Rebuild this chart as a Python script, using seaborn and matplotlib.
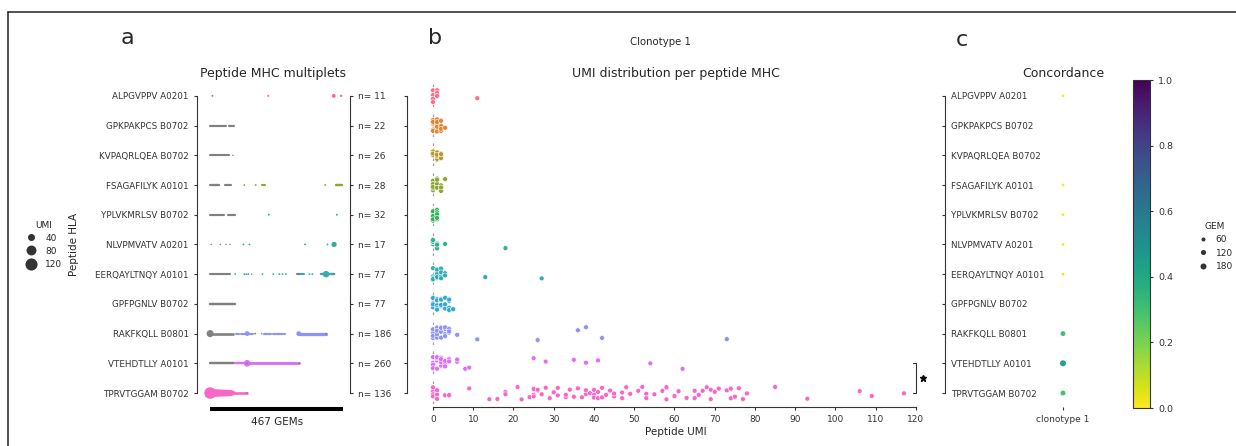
import numpy as np
import pandas as pd
import matplotlib
matplotlib.use('Agg')
import matplotlib.pyplot as plt
import matplotlib.transforms as mtransforms
from matplotlib.lines import Line2D
import seaborn as sns

# ---- data ----
peptides = ['ALPGVPPV A0201', 'GPKPAKPCS B0702', 'KVPAQRLQEA B0702', 'FSAGAFILYK A0101',
            'YPLVKMRLSV B0702', 'NLVPMVATV A0201', 'EERQAYLTNQY A0101', 'GPFPGNLV B0702',
            'RAKFKQLL B0801', 'VTEHDTLLY A0101', 'TPRVTGGAM B0702']
gem_counts = [11, 22, 26, 28, 32, 17, 77, 77, 186, 260, 136]
total_gems = 467

# panel a, single GEMs: row, GEM index, UMI, grey (peptide not the top one in GEM)
dot_row = [0, 0, 0, 0,
           2,
           3, 3, 3,
           4, 4,
           5, 5, 5, 5, 5, 5, 5, 5, 5,
           6, 6, 6, 6, 6, 6, 6, 6, 6, 6, 6, 6, 6, 6,
           8, 8, 8, 8, 8, 8,
           9, 9, 9,
           10, 10, 10, 10, 10, 10, 10, 10, 10, 10, 10, 10, 10]
dot_gem = [8, 204, 434, 460,
           80,
           120, 160, 404,
           206, 445,
           4, 36, 56, 70, 117, 138, 333, 412, 435,
           88, 120, 127, 134, 146, 184, 222, 243, 254, 266, 349, 359, 407, 436,
           0, 130, 158, 181, 311, 407,
           130, 130, 313,
           0, 8, 16, 24, 32, 40, 48, 56, 64, 72, 78, 84, 129]
dot_umi = [2, 3, 12, 4,
           1,
           2, 2, 2,
           2, 2,
           1, 1, 1, 1, 2, 2, 2, 2, 22,
           2, 2, 2, 2, 1, 2, 2, 2, 2, 2, 2, 2, 34, 2,
           40, 18, 2, 2, 18, 2,
           36, 2, 2,
           110, 60, 48, 44, 42, 40, 38, 36, 34, 30, 20, 9, 2]
dot_grey = [1, 0, 0, 0,
            1,
            0, 0, 0,
            0, 0,
            1, 1, 1, 1, 0, 0, 0, 0, 0,
            0, 0, 0, 0, 1, 0, 0, 0, 0, 0, 0, 0, 0, 1,
            1, 0, 1, 0, 0, 1,
            0, 1, 1,
            0, 0, 0, 0, 0, 0, 0, 0, 0, 0, 0, 0, 1]

# panel a, runs of neighbouring GEMs: row, first GEM, last GEM, typical UMI, grey
run_row = [1, 1, 1, 2, 2, 3, 3, 3, 3, 3, 4, 4, 6, 6, 6, 6,
           7, 8, 8, 8, 8, 8, 8, 8, 8, 9, 9, 9, 10]
run_start = [0, 15, 68, 0, 43, 0, 53, 181, 442, 6, 0, 62, 0, 306, 320, 390,
             0, 0, 90, 108, 135, 190, 222, 250, 311, 0, 88, 130, 84]
run_end = [12, 55, 84, 41, 68, 32, 73, 193, 462, 32, 50, 88, 70, 318, 329, 436,
           88, 82, 100, 125, 150, 215, 245, 263, 407, 85, 128, 313, 129]
run_umi = [3, 3, 3, 3, 3, 3, 3, 3, 4, 3, 3, 3, 3, 3, 3, 4,
           4, 5, 3, 3, 3, 3, 3, 3, 8, 4, 4, 6, 5]
run_grey = [1, 1, 1, 1, 1, 1, 1, 0, 0, 1, 1, 1, 1, 1, 0, 0,
            1, 1, 0, 0, 0, 0, 0, 0, 0, 1, 0, 0, 0]

# panel b, peptide UMI per GEM
umi_alpgvppv = [0, 0, 0, 0, 0, 1, 1, 1, 1, 1, 11]
umi_gpkpakpcs = [0, 0, 0, 0, 0, 0, 1, 1, 1, 1, 1, 1, 2, 2, 2, 2, 2, 3]
umi_kvpaqrlqea = [0, 0, 0, 0, 0, 0, 1, 1, 1, 1, 1, 1, 2, 2, 2, 2, 2, 2]
umi_fsagafilyk = [0, 0, 0, 0, 0, 0, 1, 1, 1, 1, 1, 2, 2, 2, 2, 3]
umi_yplvkmrlsv = [0, 0, 0, 0, 0, 0, 1, 1, 1, 1, 1, 1]
umi_nlvpmvatv = [0, 0, 0, 0, 0, 0, 1, 1, 1, 1, 1, 3, 18]
umi_eerqayltnqy = [0, 0, 0, 0, 0, 0, 1, 1, 1, 1, 1, 2, 2, 2, 2, 3, 3, 13, 27]
umi_gpfpgnlv = [0, 0, 0, 0, 0, 0, 1, 1, 1, 1, 1, 2, 2, 2, 2, 2, 3, 3, 3, 3, 4, 4, 4, 4, 5, 5]
umi_rakfkqll = [0, 0, 0, 0, 0, 0, 1, 1, 1, 1, 1, 2, 2, 2, 2, 2, 3, 3, 3, 3, 4, 4, 4,
                6, 11, 26, 36, 38, 42, 73]
umi_vtehdtlly = [0, 0, 0, 0, 0, 0, 1, 1, 1, 1, 1, 2, 2, 2, 2, 2, 3, 3, 3, 3, 4, 4, 4,
                 6, 6, 8, 9, 25, 28, 35, 38, 41, 54, 62]
umi_tprvtggam = [0, 0, 0, 0, 0, 1, 1, 1, 1, 3, 4, 4, 9, 14, 16, 18, 18, 21, 22, 24, 25, 25,
                 25, 26, 26, 27, 28, 29, 30, 30, 31, 31, 33, 33, 34, 35, 36, 37, 38, 38,
                 39, 40, 40, 40, 41, 41, 42, 42, 43, 44, 45, 45, 47, 47, 48, 49, 51, 52,
                 53, 53, 53, 55, 57, 58, 58, 58, 60, 61, 61, 63, 65, 65, 66, 67, 68, 69,
                 69, 70, 71, 73, 74, 74, 75, 76, 77, 78, 85, 93, 106, 109, 117]
umi_lists = [umi_alpgvppv, umi_gpkpakpcs, umi_kvpaqrlqea, umi_fsagafilyk, umi_yplvkmrlsv,
             umi_nlvpmvatv, umi_eerqayltnqy, umi_gpfpgnlv, umi_rakfkqll, umi_vtehdtlly,
             umi_tprvtggam]
zero_umi = 0

# panel c, concordance and GEMs for clonotype 1
conc_value = [0.0, np.nan, np.nan, 0.0, 0.0, 0.0, 0.03, np.nan, 0.3, 0.42, 0.3]
conc_gems = [12, np.nan, np.nan, 12, 12, 12, 14, np.nan, 110, 190, 110]
umi_legend = [40, 80, 120]
gem_legend = [60, 120, 180]

# ---- style ----
sns.set_style('ticks')
plt.rcParams['font.family'] = ['DejaVu Sans']
plt.rcParams['axes.edgecolor'] = '#333333'
plt.rcParams['axes.linewidth'] = 0.8
plt.rcParams['xtick.color'] = '#333333'
plt.rcParams['ytick.color'] = '#333333'
plt.rcParams['xtick.major.size'] = 2.5
plt.rcParams['ytick.major.size'] = 2.5
plt.rcParams['text.color'] = '#262626'

pal = sns.color_palette('husl', len(peptides))
pal_dict = dict(zip(peptides, pal))
grey = '#808080'
umi_sizes = (0.5, 76)
umi_norm = (0, 120)
gem_sizes = (3, 18.7)
gem_norm = (0, 180)

W, H = 1236, 446
fig = plt.figure(figsize=(W / 100, H / 100), dpi=100)
top, bottom = 81, 407
axa = fig.add_axes([197 / W, 1 - bottom / H, 153 / W, (bottom - top) / H])
axb = fig.add_axes([407 / W, 1 - bottom / H, 537 / W, (bottom - top) / H])
axc = fig.add_axes([945 / W, 1 - bottom / H, 236 / W, (bottom - top) / H])
cax = fig.add_axes([1133 / W, 1 - 408 / H, 17 / W, 328 / H])
rows = np.arange(len(peptides))
ylim = (10.47, -0.5)


def umi_width(u):
    return np.sqrt(umi_sizes[0] + np.asarray(u) / umi_norm[1] * (umi_sizes[1] - umi_sizes[0]))


# ---- panel a: multiplets ----
dots = pd.DataFrame({'row': dot_row, 'gem': dot_gem, 'umi': dot_umi, 'grey': dot_grey})
dots['peptide'] = [peptides[r] for r in dots['row']]
runs = pd.DataFrame({'row': run_row, 'start': run_start, 'end': run_end,
                     'umi': run_umi, 'grey': run_grey})
run_cols = [grey if g else pal[r] for r, g in zip(runs['row'], runs['grey'])]
axa.hlines(runs['row'], runs['start'], runs['end'], colors=run_cols,
           linewidths=umi_width(runs['umi']), capstyle='round', zorder=2)
sns.scatterplot(data=dots[dots['grey'] == 0], x='gem', y='row', hue='peptide',
                palette=pal_dict, size='umi', sizes=umi_sizes, size_norm=umi_norm,
                linewidth=0, legend=False, ax=axa, zorder=3)
sns.scatterplot(data=dots[dots['grey'] == 1], x='gem', y='row', color=grey,
                size='umi', sizes=umi_sizes, size_norm=umi_norm,
                linewidth=0, legend=False, ax=axa, zorder=4)
axa.set_xlim(-46, 491)
axa.set_ylim(*ylim)
axa.set_yticks(rows)
axa.set_yticklabels(peptides, fontsize=6.3)
axa.set_xticks([])
axa.set_xlabel('')
axa.set_ylabel('Peptide HLA', fontsize=7.5)
axa.yaxis.set_label_coords(-0.77, 0.5)
axa.set_title('Peptide MHC multiplets', fontsize=9, pad=3)
for s in ['top', 'right', 'bottom']:
    axa.spines[s].set_visible(False)
axa.spines['left'].set_bounds(0, 10)

axa2 = axa.twinx()
axa2.set_ylim(*ylim)
axa2.set_yticks(rows)
axa2.set_yticklabels(['n= %d' % n for n in gem_counts], fontsize=6.5)
for s in ['top', 'left', 'bottom']:
    axa2.spines[s].set_visible(False)
axa2.spines['right'].set_bounds(0, 10)

# scale bar under panel a
tr = mtransforms.blended_transform_factory(axa.transData, axa.transAxes)
axa.plot([0, total_gems], [-0.006, -0.006], color='black', lw=2.9,
         solid_capstyle='butt', transform=tr, clip_on=False)
axa.text(total_gems / 2, -0.046, '%d GEMs' % total_gems, transform=tr,
         ha='center', va='center', fontsize=7.5)

handles = [Line2D([], [], marker='o', ls='', color='#333333', markeredgewidth=0,
                  markersize=umi_width(u)) for u in umi_legend]
fig.legend(handles, [str(u) for u in umi_legend], title='UMI', loc='upper left',
           bbox_to_anchor=(21 / W, 1 - 216 / H), frameon=False, fontsize=6.5,
           title_fontsize=6.5, handletextpad=1.0, labelspacing=0.45,
           borderpad=0, handlelength=1.2)

# ---- panel b: UMI distribution ----
bdf = pd.DataFrame({'peptide': np.repeat(peptides, [len(v) for v in umi_lists]),
                    'umi': np.concatenate(umi_lists)})
axb.vlines([zero_umi] * len(rows), rows - 0.4, rows + 0.4, colors='#a0a0a0',
           linestyles=(0, (2, 2)), linewidth=0.9, zorder=1)
np.random.seed(7)
sns.stripplot(data=bdf, x='umi', y='peptide', order=peptides, hue='peptide',
              hue_order=peptides, palette=pal, size=3.5, linewidth=0.4, jitter=0.22,
              edgecolor='white', legend=False, ax=axb, zorder=3)
axb.set_xlim(-6.46, 126.96)
axb.set_ylim(*ylim)
axb.set_xticks(np.arange(0, 121, 10))
axb.tick_params(axis='x', labelsize=6.5)
axb.set_yticks(rows)
axb.set_yticklabels([])
axb.set_ylabel('')
axb.set_xlabel('Peptide UMI', fontsize=7.5, labelpad=2)
axb.set_title('UMI distribution per peptide MHC', fontsize=9, pad=3)
for s in ['top', 'right']:
    axb.spines[s].set_visible(False)
axb.spines['left'].set_bounds(0, 10)
axb.spines['bottom'].set_bounds(0, 120)
# significance bracket between the two last rows
axb.plot([119.3, 120, 120, 119.3], [9, 9, 10, 10], color='#333333', lw=0.8, clip_on=False)
axb.plot([121.7], [9.5], marker='*', color='black', ms=5, clip_on=False)

# ---- panel c: concordance ----
cdf = pd.DataFrame({'clono': 'clonotype 1', 'row': rows, 'conc': conc_value, 'gem': conc_gems})
cdf = cdf.dropna()
sns.scatterplot(data=cdf, x='clono', y='row', hue='conc', hue_norm=(0, 1),
                palette='viridis_r', size='gem', sizes=gem_sizes, size_norm=gem_norm,
                linewidth=0, legend=False, ax=axc)
axc.set_xlim(-0.5, 0.5)
axc.set_ylim(*ylim)
axc.set_yticks(rows)
axc.set_yticklabels(peptides, fontsize=6.3, ha='left')
axc.tick_params(axis='y', pad=-6.8)
axc.tick_params(axis='x', labelsize=6.5)
axc.set_xlabel('')
axc.set_ylabel('')
axc.set_title('Concordance', fontsize=9, pad=3)
for s in ['top', 'right', 'bottom']:
    axc.spines[s].set_visible(False)
axc.spines['left'].set_bounds(0, 10)

sm = plt.cm.ScalarMappable(norm=plt.Normalize(0, 1), cmap='viridis_r')
cb = fig.colorbar(sm, cax=cax)
cb.set_ticks(np.arange(0, 1.01, 0.2))
cb.ax.tick_params(labelsize=6.8, length=2.5)
cb.outline.set_linewidth(0.8)

gem_handles = [Line2D([], [], marker='o', ls='', color='#333333', markeredgewidth=0,
                      markersize=np.sqrt(gem_sizes[0] + g / gem_norm[1] * (gem_sizes[1] - gem_sizes[0])))
               for g in gem_legend]
fig.legend(gem_handles, [str(g) for g in gem_legend], title='GEM', loc='upper left',
           bbox_to_anchor=(1193 / W, 1 - 217 / H), frameon=False, fontsize=6.5,
           title_fontsize=6.5, handletextpad=0.8, labelspacing=0.5,
           borderpad=0, handlelength=1.2)

# ---- figure texts and frame ----
fig.text(127 / W, 1 - 38 / H, 'a', fontsize=16, ha='center', va='center')
fig.text(435 / W, 1 - 38 / H, 'b', fontsize=16, ha='center', va='center')
fig.text(962 / W, 1 - 40 / H, 'c', fontsize=16, ha='center', va='center')
fig.text(660 / W, 1 - 42 / H, 'Clonotype 1', fontsize=7.3, ha='center', va='center')
fig.add_artist(Line2D([8 / W, 8 / W], [0, 1 - 12 / H], color='#222222', lw=1.1))
fig.add_artist(Line2D([8 / W, 1], [1 - 12 / H, 1 - 12 / H], color='#222222', lw=1.1))

fig.savefig('out.png', dpi=100)
